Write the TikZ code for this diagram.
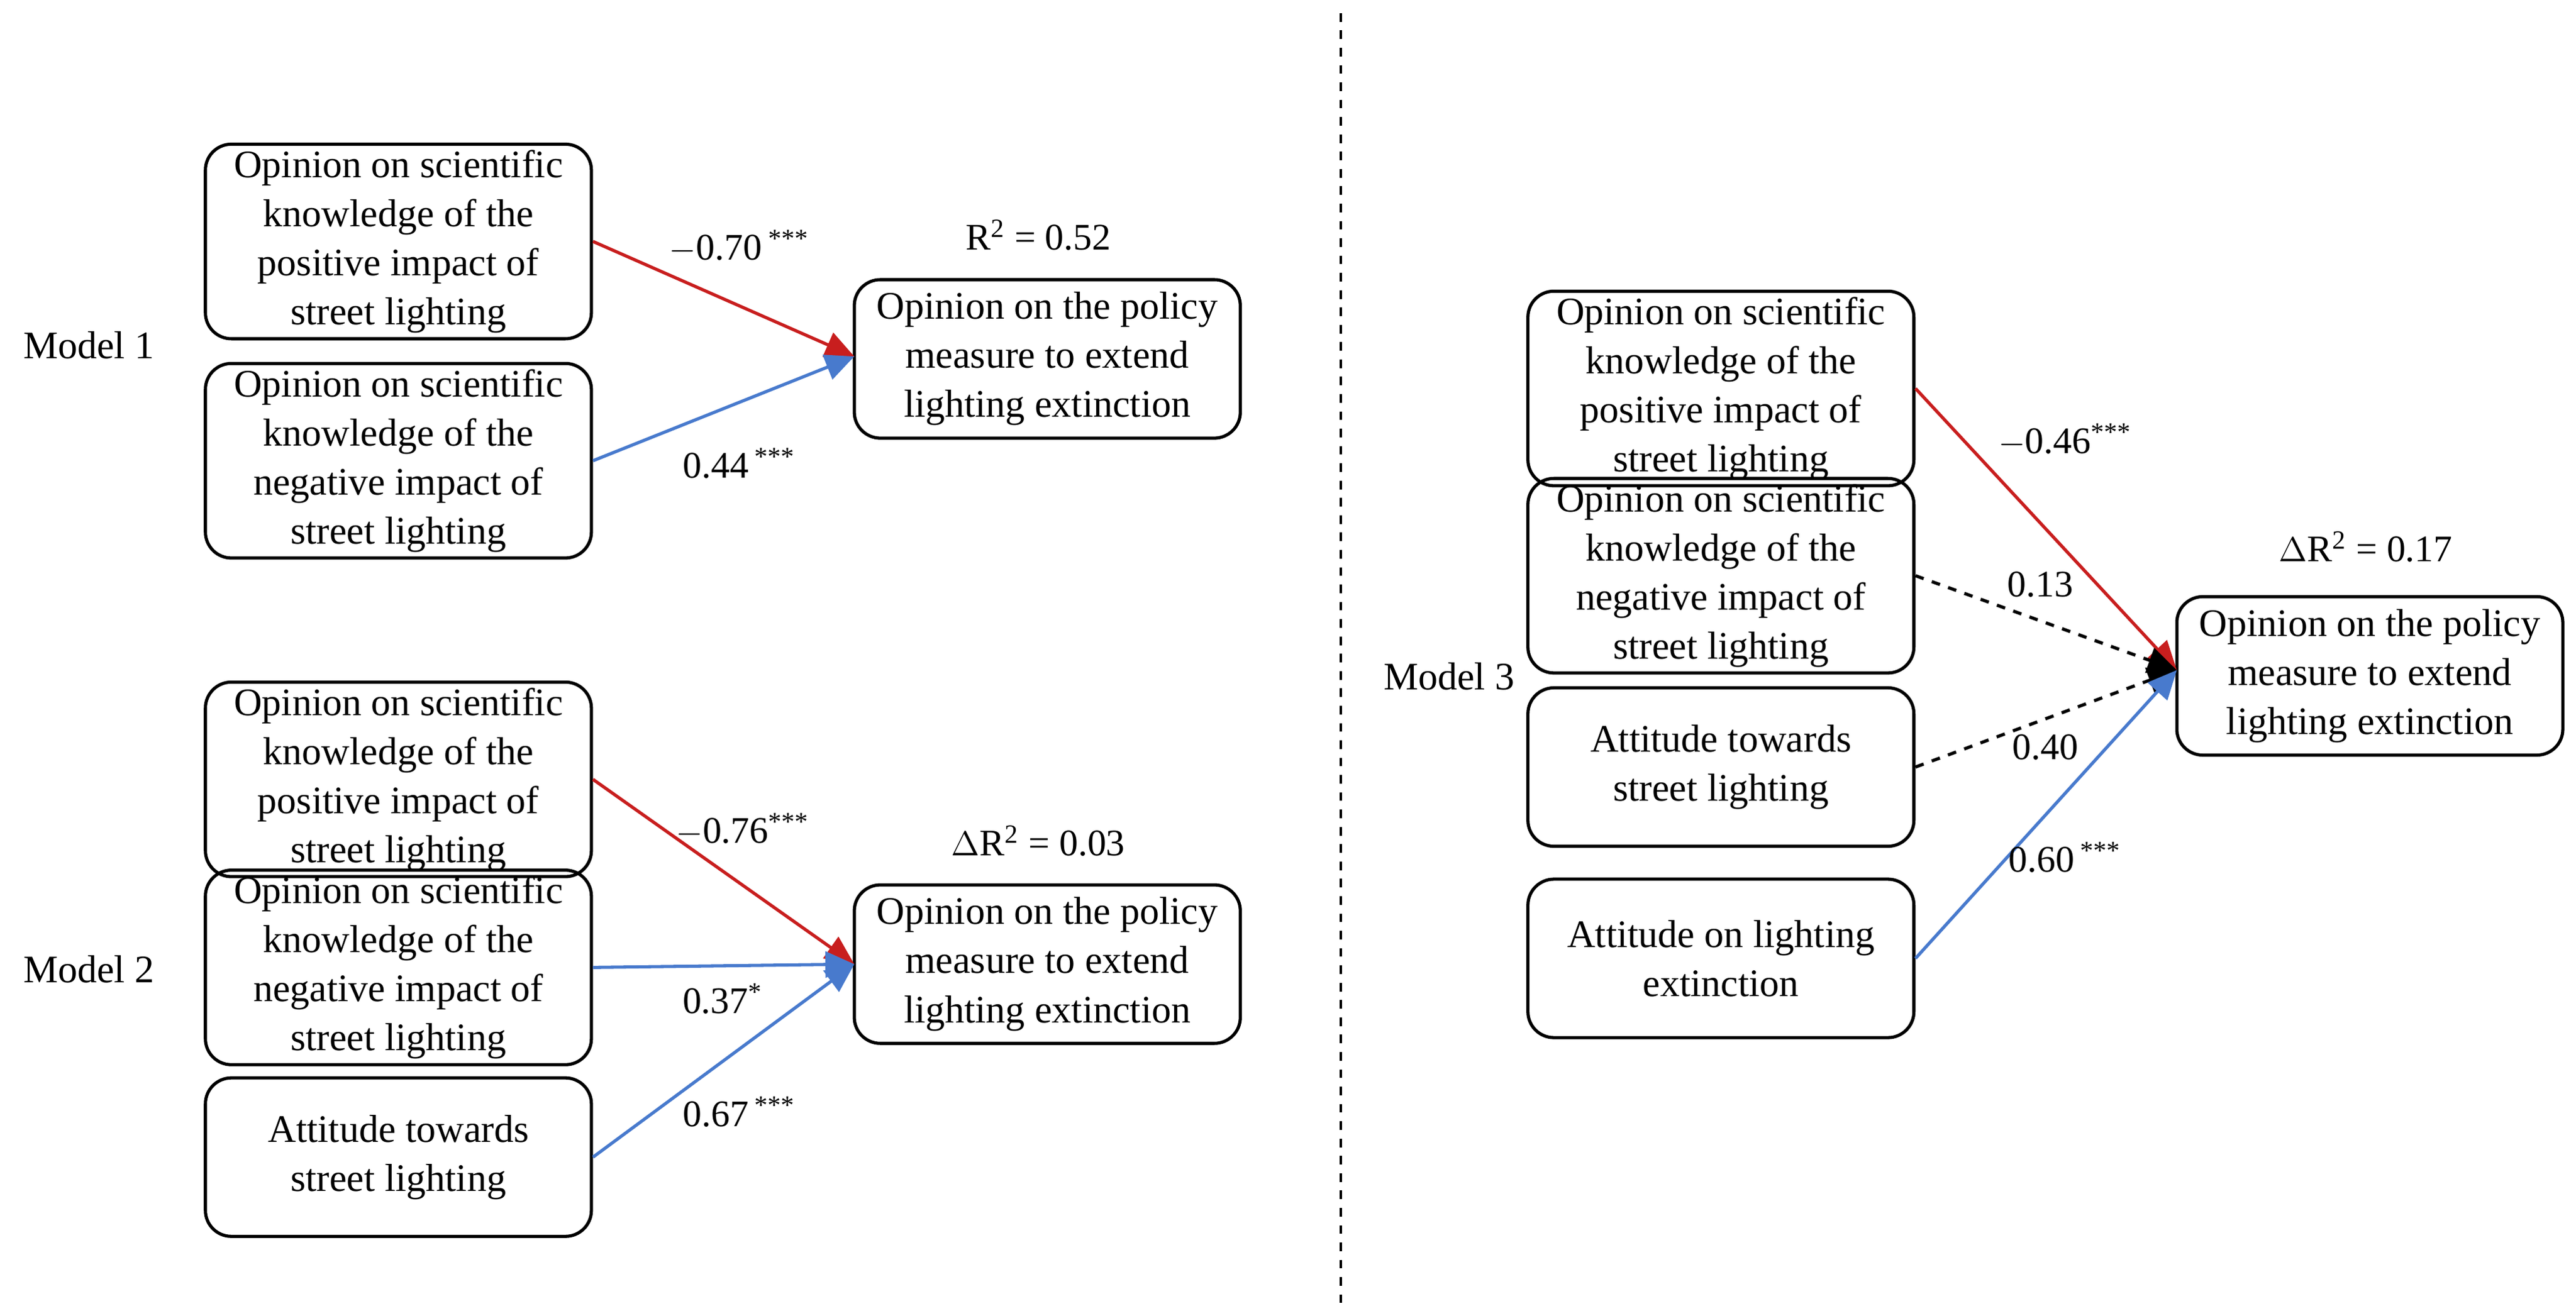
\documentclass[tikz,border=0pt]{standalone}
\usepackage{fontspec}
\setmainfont{Liberation Serif}
\usetikzlibrary{arrows.meta}
\definecolor{myred}{RGB}{200,30,30}
\definecolor{myblue}{RGB}{72,122,205}
\begin{document}
\begin{tikzpicture}[x=0.02cm,y=-0.02cm,
  box/.style={draw,line width=1.1pt,rounded corners=9pt,minimum width=4.7cm,minimum height=1.93cm,align=center,font=\fontsize{13.5}{17}\selectfont,inner sep=2pt},
  lab/.style={font=\fontsize{13.5}{16}\selectfont},
  arr/.style={line width=1.1pt,-{Triangle[length=10pt,width=9pt]}},
  sig/.style={font=\fontsize{13}{15}\selectfont}]
\useasboundingbox (0,0) rectangle (1568,801);
\draw[dashed,line width=0.8pt] (816,8) -- (816,795);
% Model 1
\node[lab,anchor=west] (m1) at (8,210) {Model 1};
\node[box] (a1) at (242.5,147) {Opinion on scientific\\knowledge of the\\positive impact of\\street lighting};
\node[box] (a2) at (242.5,280.5) {Opinion on scientific\\knowledge of the\\negative impact of\\street lighting};
\node[box] (t1) at (637.5,218.5) {Opinion on the policy\\measure to extend\\lighting extinction};
\node[sig] (r1) at (632,143) {R\textsuperscript{2} = 0.52};
\coordinate (p1) at (520,217);
\draw[arr,myred] (a1.east) -- (p1);
\draw[arr,myblue] (a2.east) -- (p1);
\node[sig] (l1) at (450,150) {$-$0.70\,\textsuperscript{***}};
\node[sig] (l2) at (450,282) {0.44\,\textsuperscript{***}};
% Model 2
\node[lab,anchor=west] (m2) at (8,590) {Model 2};
\node[box] (b1) at (242.5,474.5) {Opinion on scientific\\knowledge of the\\positive impact of\\street lighting};
\node[box] (b2) at (242.5,589) {Opinion on scientific\\knowledge of the\\negative impact of\\street lighting};
\node[box] (b3) at (242.5,704.5) {Attitude towards\\street lighting};
\node[box] (t2) at (637.5,587) {Opinion on the policy\\measure to extend\\lighting extinction};
\node[sig] (r2) at (632,512) {$\Delta$R\textsuperscript{2} = 0.03};
\coordinate (p2) at (520,587);
\draw[arr,myred] (b1.east) -- (p2);
\draw[arr,myblue] (b2.east) -- (p2);
\draw[arr,myblue] (b3.east) -- (p2);
\node[sig] (l3) at (452,505) {$-$0.76\textsuperscript{***}};
\node[sig] (l4) at (440,608) {0.37\textsuperscript{*}};
\node[sig] (l5) at (450,677) {0.67\,\textsuperscript{***}};
% Model 3
\node[lab,anchor=west] (m3) at (836,412) {Model 3};
\node[box] (c1) at (1047.5,236.5) {Opinion on scientific\\knowledge of the\\positive impact of\\street lighting};
\node[box] (c2) at (1047.5,350.5) {Opinion on scientific\\knowledge of the\\negative impact of\\street lighting};
\node[box] (c3) at (1047.5,467) {Attitude towards\\street lighting};
\node[box] (c4) at (1047.5,583.5) {Attitude on lighting\\extinction};
\node[box] (t3) at (1442.5,411.5) {Opinion on the policy\\measure to extend\\lighting extinction};
\node[sig] (r3) at (1440,333) {$\Delta$R\textsuperscript{2} = 0.17};
\coordinate (p3) at (1325,408);
\draw[arr,myred] (c1.east) -- (p3);
\draw[arr,dashed] (c2.east) -- (p3);
\draw[arr,dashed] (c3.east) -- (p3);
\draw[arr,myblue] (c4.east) -- (p3);
\node[sig] (l6) at (1257,268) {$-$0.46\textsuperscript{***}};
\node[sig] (l7) at (1242,356) {0.13};
\node[sig] (l8) at (1245,455) {0.40};
\node[sig] (l9) at (1257,522) {0.60\,\textsuperscript{***}};
\end{tikzpicture}
\end{document}
